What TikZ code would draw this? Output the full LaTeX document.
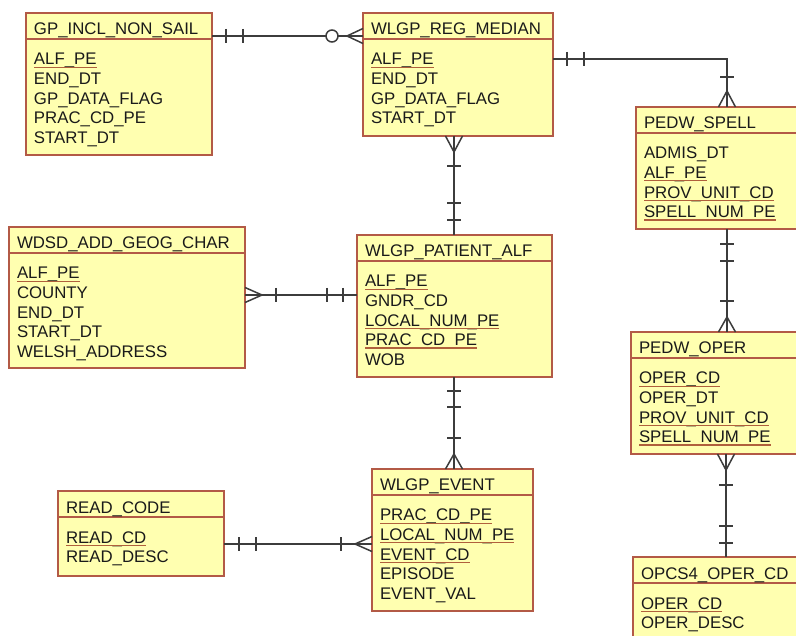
\documentclass[tikz,border=0pt]{standalone}
\usepackage{fontspec}
\setmainfont{Liberation Sans}
\definecolor{entfill}{HTML}{FFFFB0}
\definecolor{entborder}{HTML}{B35A46}
\definecolor{ulcol}{HTML}{B0603C}
\definecolor{linecol}{HTML}{3C3C3C}
\definecolor{txtcol}{HTML}{1A1A1A}
\tikzset{
  entity/.style={draw=entborder, fill=entfill, line width=1.4pt, rectangle, anchor=north west, inner sep=0pt, outer sep=0pt},
  border/.style={draw=entborder, line width=1.4pt},
  txt/.style={anchor=base west, inner sep=0pt, outer sep=0pt, text=txtcol, font=\fontsize{16.8}{20}\selectfont},
  ul/.style={draw=ulcol, line width=1.1pt},
  conn/.style={draw=linecol, line width=1.5pt}
}
\newcommand\ent[6]{%
  \node[entity, minimum width=#4pt, minimum height=#5pt] (#1) at (#2,#3) {};
  \draw[border] ([yshift=-26pt]#1.north west) -- ([yshift=-26pt]#1.north east);
  \node[txt] (#1-t) at ([xshift=8pt,yshift=-22pt]#1.north west) {#6};
}
\newcommand\fieldlist[2]{%
  \foreach \u/\t [count=\i] in {#2} {
    \node[txt] (#1-\i) at ([xshift=8pt,yshift={-(32.4+19.6*\i)*1pt}]#1.north west) {\t};
    \ifnum\u=1 \draw[ul] ([yshift=-2.2pt]#1-\i.base west) -- ([yshift=-2.2pt]#1-\i.base east);\fi
  }
}
\newcommand\tickh[2]{\draw[conn] (#1,{#2-7}) -- (#1,{#2+7});}
\newcommand\tickv[2]{\draw[conn] ({#1-7},#2) -- ({#1+7},#2);}
\newcommand\crowh[3]{\draw[conn] (#2,{#3-7.5}) -- (#1,#3) -- (#2,{#3+7.5});}
\newcommand\crowv[3]{\draw[conn] ({#3-8.5},#2) -- (#3,#1) -- ({#3+8.5},#2);}
\begin{document}
\begin{tikzpicture}[x=1pt,y=-1pt]
\useasboundingbox (0,0) rectangle (796,636);
\clip (0,0) rectangle (796,636);
\fill[white] (0,0) rectangle (796,636);

\ent{gp}{26}{13}{186}{142}{GP\_INCL\_NON\_SAIL}
\ent{reg}{363}{13}{190}{123}{WLGP\_REG\_MEDIAN}
\ent{spell}{636}{107}{200}{122}{PEDW\_SPELL}
\ent{wdsd}{9}{227}{236}{141}{WDSD\_ADD\_GEOG\_CHAR}
\ent{pat}{357}{235}{195}{142}{WLGP\_PATIENT\_ALF}
\ent{oper}{631}{332}{200}{122}{PEDW\_OPER}
\ent{read}{58}{491}{166}{85}{READ\_CODE}
\ent{ev}{372}{469}{161}{142}{WLGP\_EVENT}
\ent{opcs}{633}{557}{200}{100}{OPCS4\_OPER\_CD}

\fieldlist{gp}{1/ALF\_PE,0/END\_DT,0/GP\_DATA\_FLAG,0/PRAC\_CD\_PE,0/START\_DT}
\fieldlist{reg}{1/ALF\_PE,0/END\_DT,0/GP\_DATA\_FLAG,0/START\_DT}
\fieldlist{spell}{0/ADMIS\_DT,1/ALF\_PE,1/PROV\_UNIT\_CD,1/SPELL\_NUM\_PE}
\fieldlist{wdsd}{1/ALF\_PE,0/COUNTY,0/END\_DT,0/START\_DT,0/WELSH\_ADDRESS}
\fieldlist{pat}{1/ALF\_PE,0/GNDR\_CD,1/LOCAL\_NUM\_PE,1/PRAC\_CD\_PE,0/WOB}
\fieldlist{oper}{1/OPER\_CD,0/OPER\_DT,1/PROV\_UNIT\_CD,1/SPELL\_NUM\_PE}
\fieldlist{read}{1/READ\_CD,0/READ\_DESC}
\fieldlist{ev}{1/PRAC\_CD\_PE,1/LOCAL\_NUM\_PE,1/EVENT\_CD,0/EPISODE,0/EVENT\_VAL}
\fieldlist{opcs}{1/OPER\_CD,0/OPER\_DESC}

% GP_INCL -> REG_MEDIAN
\draw[conn] ([yshift=-23pt]gp.north east) -- ([yshift=-23pt]reg.north west);
\tickh{226}{36}\tickh{243}{36}
\draw[conn, fill=white] (332,36) circle (6pt);
\crowh{347}{363}{36}
% REG_MEDIAN -> PEDW_SPELL
\draw[conn] ([yshift=-46pt]reg.north east) -| ([xshift=91pt]spell.north west);
\tickh{567}{59}\tickh{584}{59}
\tickv{727}{77}
\crowv{91}{107}{727}
% REG_MEDIAN -> PATIENT_ALF
\draw[conn] ([xshift=91pt]reg.south west) -- ([xshift=97pt]pat.north west);
\crowv{152}{136}{454}
\tickv{454}{166}
\tickv{454}{203}\tickv{454}{220}
% WDSD -> PATIENT_ALF
\draw[conn] ([yshift=-68pt]wdsd.north east) -- ([yshift=-60pt]pat.north west);
\crowh{262}{245}{295}
\tickh{276}{295}
\tickh{327}{295}\tickh{343}{295}
% PATIENT_ALF -> EVENT
\draw[conn] ([xshift=97pt]pat.south west) -- ([xshift=82pt]ev.north west);
\tickv{454}{391}\tickv{454}{407}
\tickv{454}{438}
\crowv{454}{469}{454}
% READ_CODE -> EVENT
\draw[conn] ([yshift=-53pt]read.north east) -- ([yshift=-75pt]ev.north west);
\tickh{239}{544}\tickh{256}{544}
\tickh{341}{544}
\crowh{355}{372}{544}
% PEDW_SPELL -> PEDW_OPER
\draw[conn] ([xshift=91pt]spell.south west) -- ([xshift=96pt]oper.north west);
\tickv{727}{244}\tickv{727}{261}
\tickv{727}{301}
\crowv{317}{332}{727}
% PEDW_OPER -> OPCS4
\draw[conn] ([xshift=95pt]oper.south west) -- ([xshift=93pt]opcs.north west);
\crowv{470}{454}{726}
\tickv{726}{485}
\tickv{726}{526}\tickv{726}{543}
\end{tikzpicture}
\end{document}
